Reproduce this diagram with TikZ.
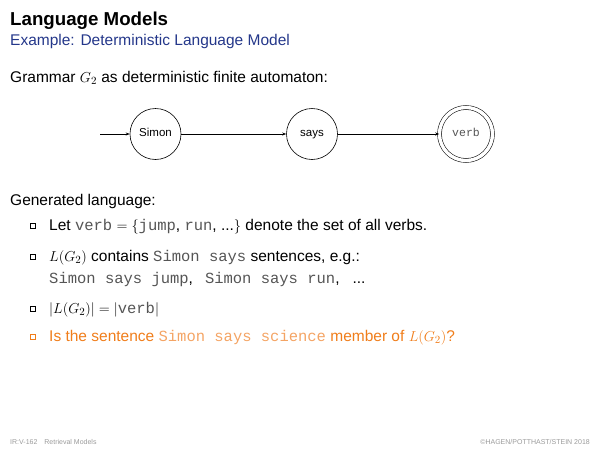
\documentclass[tikz,border=0pt]{standalone}
\usepackage{fontspec}
\setmainfont{Liberation Sans}
\setsansfont{Liberation Sans}
\setmonofont{Liberation Mono}
\usetikzlibrary{arrows.meta,shadows}
\definecolor{subblue}{HTML}{24378A}
\definecolor{monogray}{HTML}{555555}
\definecolor{hlorange}{HTML}{F07D1A}
\definecolor{hlorangelight}{HTML}{F4A464}
\definecolor{footgray}{HTML}{9A9A9A}
\newcommand{\mtt}[1]{{\color{monogray}\texttt{#1}}}
\newcommand{\ott}[1]{{\color{hlorangelight}\texttt{#1}}}
\begin{document}
\begin{tikzpicture}[x=1pt,y=-1pt,
  txt/.style={anchor=base west,inner sep=0pt,font=\fontsize{15.5}{18}\selectfont},
  state/.style={draw,circle,minimum size=51pt,inner sep=0pt,text height=8pt,text depth=2.5pt,anchor=center,font=\fontsize{11.5}{13}\selectfont,line width=0.6pt},
  accstate/.style={state,double,double distance=3.4pt,minimum size=53pt,line width=0.55pt},
  trans/.style={draw,line width=0.6pt,-{Stealth[length=4pt,width=3pt]}},
  bul/.style={draw,line width=0.5pt,minimum size=4.8pt,inner sep=0pt,fill=white,
    drop shadow={shadow xshift=0.7pt,shadow yshift=-0.7pt,opacity=1,fill=black!65}},
  obul/.style={draw=hlorange,line width=0.5pt,minimum size=4.8pt,inner sep=0pt,fill=white,
    drop shadow={shadow xshift=0.7pt,shadow yshift=-0.7pt,opacity=1,fill=hlorange}},
  foot/.style={anchor=base west,inner sep=0pt,font=\fontsize{7}{8}\selectfont,text=footgray}]
\useasboundingbox (0,0) rectangle (600,450);
% title
\node[anchor=base west,inner sep=0pt,font=\fontsize{18.7}{21}\selectfont\bfseries] (title) at (10,25) {Language Models};
\node[anchor=base west,inner sep=0pt,font=\fontsize{15.5}{18}\selectfont,text=subblue] (sub) at (10,45) {Example: Deterministic Language Model};
% intro
\node[txt] (intro) at (10,82) {Grammar $G_2$ as deterministic finite automaton:};
% automaton
\coordinate (start) at (100,134);
\node[state] (simon) at (155.5,134) {Simon};
\node[state] (says) at (312,134) {says};
\node[accstate] (verb) at (466,134) {\mtt{verb}};
\draw[trans] (start) -- (simon);
\draw[trans] (simon) -- (says);
\draw[trans] (says) -- (verb);
% generated language
\node[txt] (gen) at (10,205) {Generated language:};
\node[bul] (b1) at (33,226) {};
\node[txt] (l1) at (49,230) {Let \mtt{verb} $=\{$\mtt{jump}, \mtt{run}, ...$\}$ denote the set of all verbs.};
\node[bul] (b2) at (33,257) {};
\node[txt] (l2) at (49,261) {$L(G_2)$ contains \mtt{Simon says} sentences, e.g.:};
\node[txt] (l2b) at (49,283) {\mtt{Simon says jump},\hspace{12pt}\mtt{Simon says run},\hspace{13pt}...};
\node[bul] (b3) at (33,309) {};
\node[txt] (l3) at (49,313) {$|L(G_2)| = |\mtt{verb}|$};
\node[obul] (b4) at (33,337) {};
\node[txt,text=hlorange] (l4) at (49,341) {Is the sentence \ott{Simon says science} member of $L(G_2)$?};
% footer
\node[foot] (f1) at (10,444) {IR:V-162\quad Retrieval Models};
\node[foot,anchor=base east] (f2) at (590,444) {\textcopyright HAGEN/POTTHAST/STEIN 2018};
\end{tikzpicture}
\end{document}
